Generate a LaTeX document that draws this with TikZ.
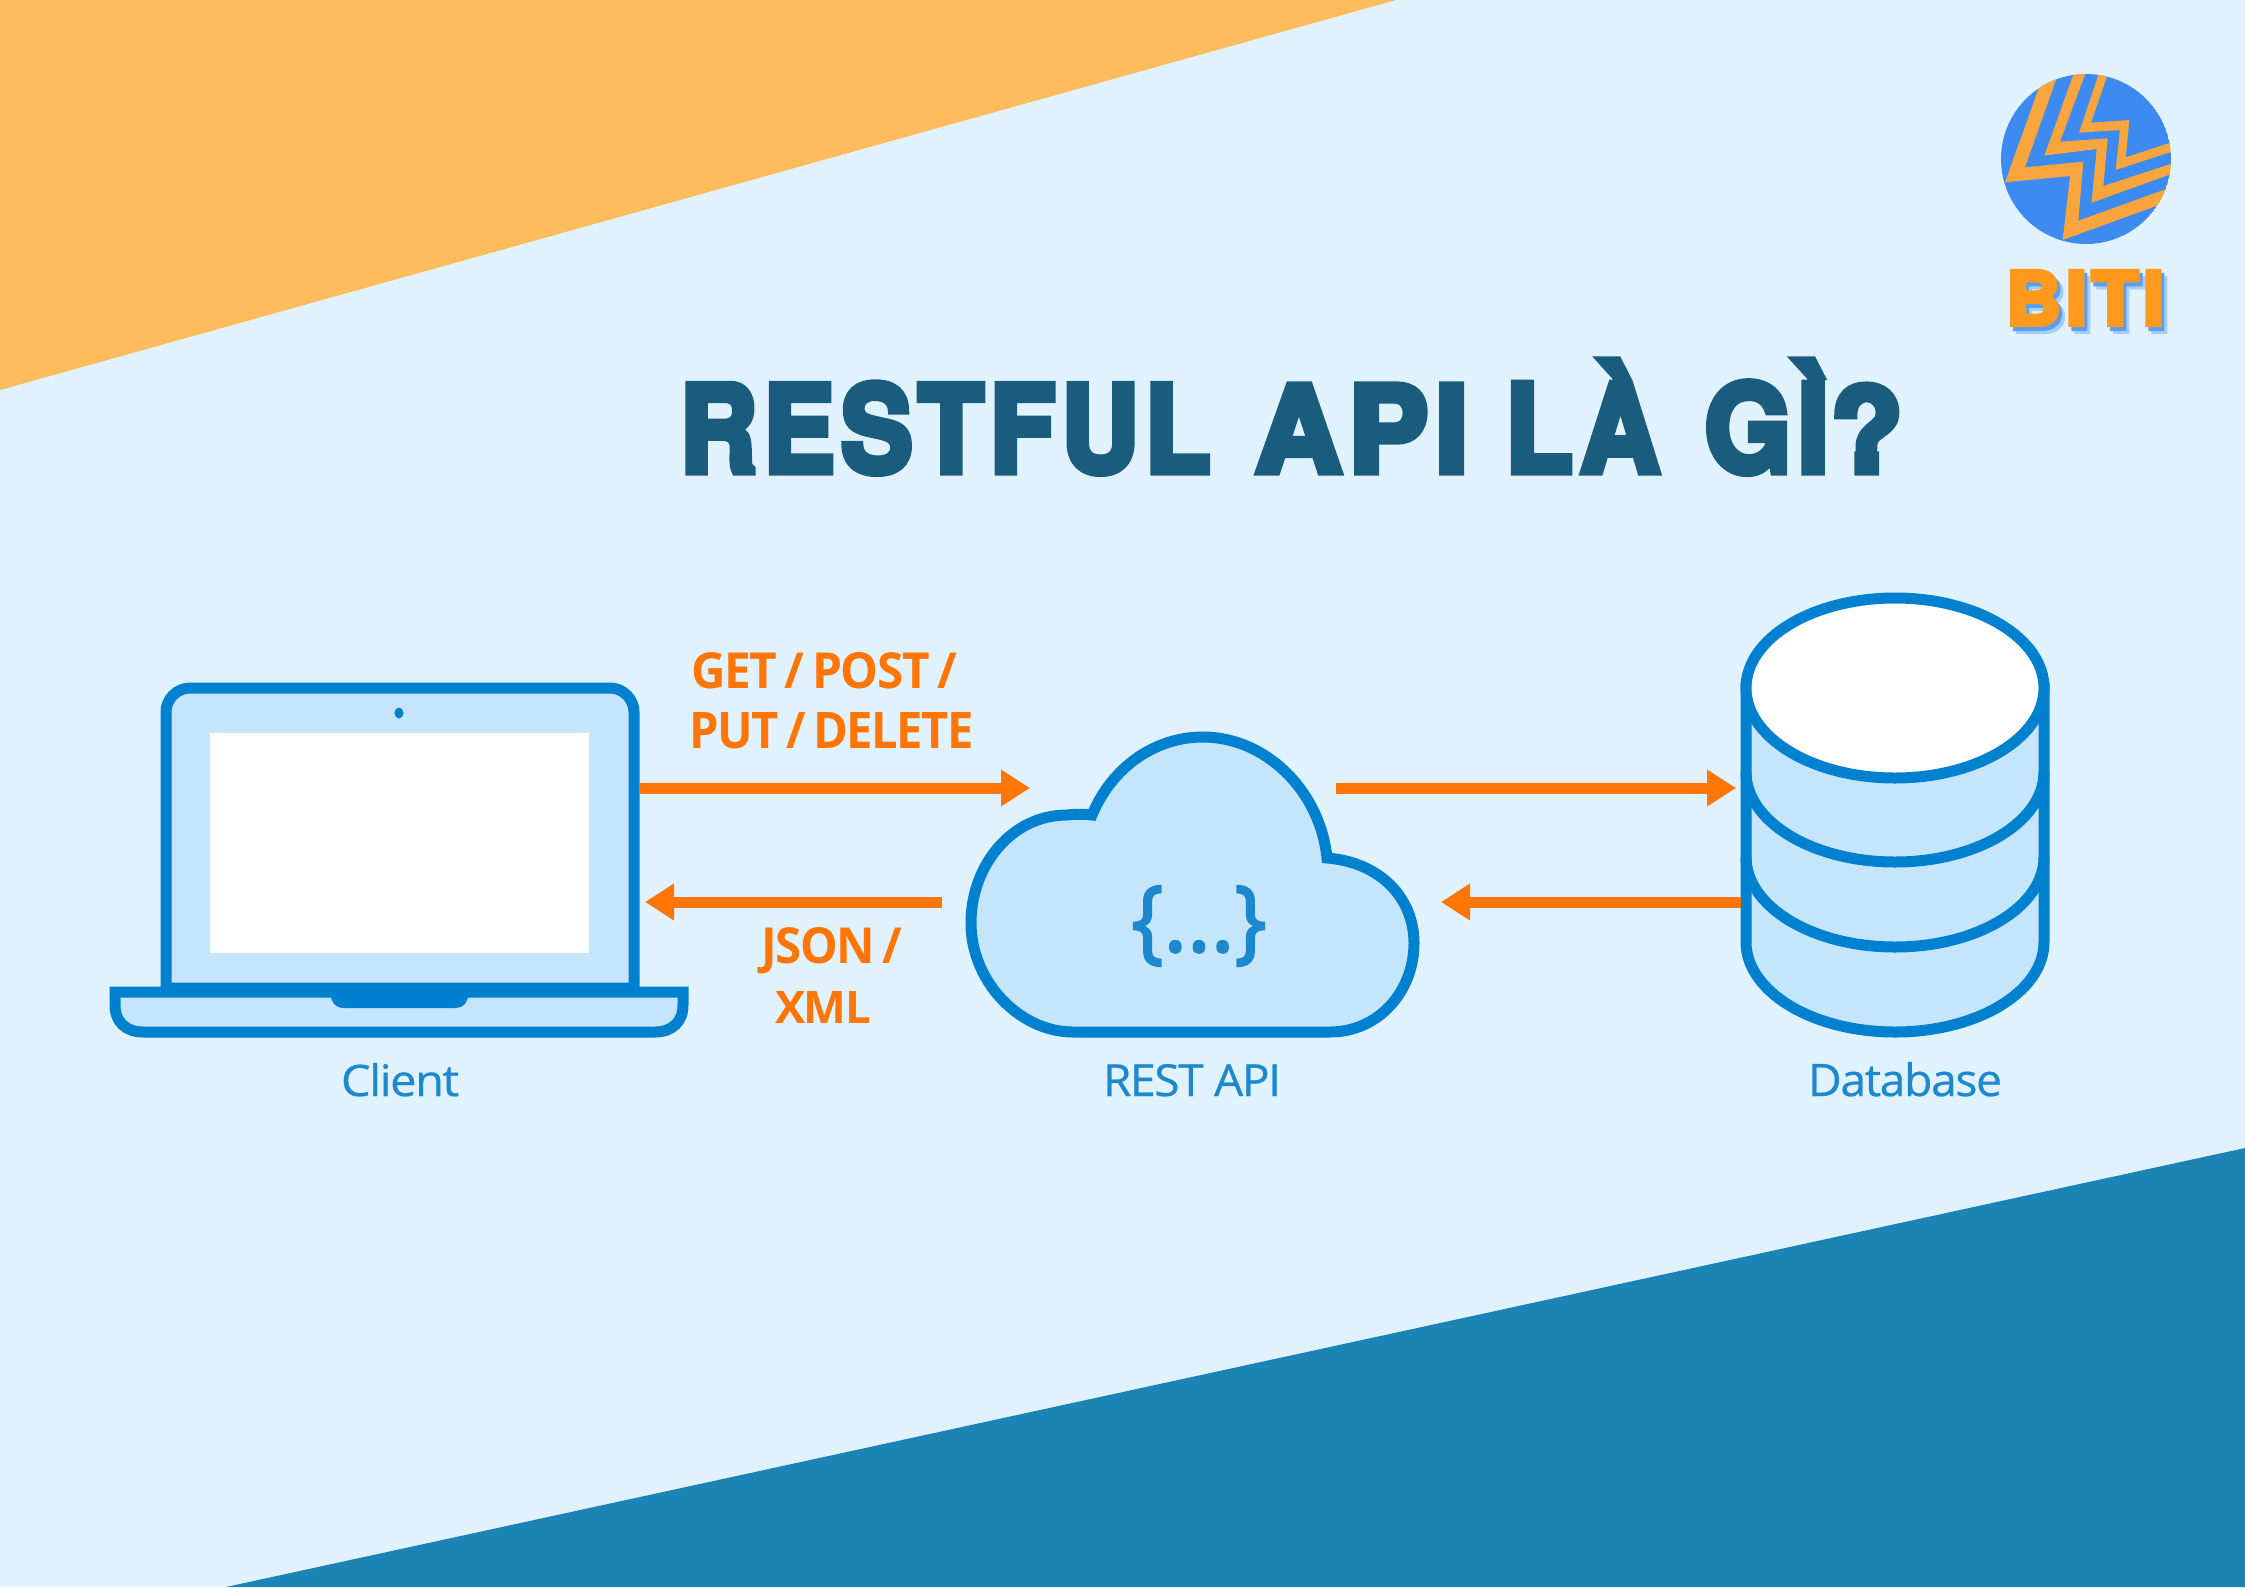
\documentclass[tikz,border=0pt]{standalone}
\usepackage{fontspec}
\usepackage{graphicx}
\usetikzlibrary{arrows.meta}
\newfontfamily\osans[LetterSpace=-3]{Open Sans}
\newfontfamily\capfont[FakeBold=0.6,LetterSpace=-3]{Open Sans}
\newfontfamily\bracefont[FakeBold=2.5]{Open Sans}
\newfontfamily\heavyfont[BoldFeatures={FakeBold=6,LetterSpace=6}]{TeX Gyre Heros}
\definecolor{bgblue}{HTML}{E0F2FE}
\definecolor{cornerorange}{HTML}{FFBC5C}
\definecolor{cornerblue}{HTML}{1C84B4}
\definecolor{titleblue}{HTML}{1A5C7E}
\definecolor{iconline}{HTML}{0081D0}
\definecolor{iconfill}{HTML}{C5E5FC}
\definecolor{arrowor}{HTML}{FF7506}
\definecolor{capblue}{HTML}{1E88CF}
\definecolor{logoblue}{HTML}{3D8BF0}
\definecolor{logoband}{HTML}{F9A53D}
\definecolor{logotext}{HTML}{FF9A1F}
\definecolor{shadowA}{HTML}{5B9EF0}
\definecolor{shadowB}{HTML}{A8CCF8}
\newcommand{\tsp}{\hspace{0.16em}}
\tikzset{
  icon/.style={draw=iconline,fill=iconfill,line width=11pt,line join=miter},
  flow/.style={draw=arrowor,line width=11pt,-{Triangle[length=29pt,width=35pt]}},
  txt/.style={anchor=base west,inner sep=0pt,outer sep=0pt},
  oranget/.style={txt,text=arrowor,font=\osans\bfseries},
  capt/.style={txt,text=capblue,font=\capfont},
  band/.style={fill=logoband,draw=none},
}
\begin{document}
\begin{tikzpicture}[x=1pt,y=-1pt]
\useasboundingbox (0,0) rectangle (2245,1587);
% background
\fill[bgblue] (0,0) rectangle (2245,1587);
\fill[cornerorange] (0,0) -- (1396,0) -- (0,390) -- cycle;
\fill[cornerblue] (226,1587) -- (2245,1148) -- (2245,1587) -- cycle;
% logo
\begin{scope}
  \clip (2086,159) circle[radius=85];
  \fill[logoblue] (2086,159) circle[radius=85];
  \begin{scope}[shift={(1950,50)},x=0.33333pt,y=-0.33333pt]
    \fill[band] (325,70) -- (225,352) -- (400,335) -- (385,512) -- (660,413) -- (640,460) -- (338,570) -- (360,378) -- (165,397) -- (275,90) -- cycle;
    \fill[band] (375,60) -- (410,60) -- (330,275) -- (473,265) -- (460,408) -- (680,336) -- (680,366) -- (425,458) -- (440,297) -- (283,317) -- cycle;
    \fill[band] (450,60) -- (478,60) -- (423,218) -- (538,210) -- (527,322) -- (680,272) -- (680,300) -- (497,360) -- (510,240) -- (387,248) -- cycle;
  \end{scope}
\end{scope}
\node[txt,text=shadowB,font=\heavyfont\bfseries] (bitiB) at (2012,332) {\resizebox{158pt}{54pt}{BITI}};
\node[txt,text=shadowA,font=\heavyfont\bfseries] (bitiA) at (2009,329) {\resizebox{158pt}{54pt}{BITI}};
\node[txt,text=logotext,font=\heavyfont\bfseries] (biti) at (2006,325) {\resizebox{158pt}{54pt}{BITI}};
% title
\node[txt,text=titleblue,font=\heavyfont\bfseries] (title) at (680,472) {\resizebox{530pt}{89pt}{RESTFUL}\hspace{45pt}\resizebox{213pt}{87pt}{API}\hspace{37pt}\resizebox{154pt}{112pt}{LÀ}\hspace{45pt}\resizebox{124pt}{112pt}{GÌ}\hspace{2pt}\resizebox{72pt}{87pt}{?}};
% laptop
\draw[icon] (166,988) -- (166,712) .. controls (166,699) and (177,688) .. (190,688) -- (610,688) .. controls (623,688) and (634,699) .. (634,712) -- (634,988) -- cycle;
\fill[white] (210,733) rectangle (589,953);
\fill[iconline] (399,713) ellipse[x radius=4.5,y radius=5.5];
\draw[icon] (115,992) -- (683,992) -- (683,1005) .. controls (683,1022) and (672,1032) .. (655,1032) -- (143,1032) .. controls (126,1032) and (115,1022) .. (115,1005) -- cycle;
\fill[iconline] (330,995) -- (469,995) -- (467,1000) .. controls (465,1006) and (460,1008) .. (455,1008) -- (344,1008) .. controls (339,1008) and (334,1006) .. (332,1000) -- cycle;
\node[capt] (client) at (341,1096) {\resizebox{118pt}{33pt}{Client}};
% cloud
\draw[icon] (1073,1032) -- (1330,1032) .. controls (1378,1032) and (1414,992) .. (1414,943) .. controls (1414,898) and (1380,862) .. (1327,858) .. controls (1320,790) and (1265,737) .. (1203,737) .. controls (1155,737) and (1112,767) .. (1092,815) .. controls (1084,814) and (1076,814) .. (1067,815) .. controls (1012,815) and (971,865) .. (971,923) .. controls (971,982) and (1020,1032) .. (1073,1032) -- cycle;
\node[anchor=center,inner sep=0pt,text=capblue,font=\bracefont] (braces) at (1199,926) {\resizebox*{32pt}{80pt}{\{}\resizebox{71pt}{!}{...}\resizebox*{32pt}{80pt}{\}}};
\node[capt] (api) at (1103,1096) {\resizebox{178pt}{32pt}{REST API}};
% database
\draw[icon] (1746,688) -- (1746,942) arc[x radius=149,y radius=90,start angle=180,end angle=0] -- (2044,688) -- cycle;
\draw[icon,fill=none] (1746,772) arc[x radius=149,y radius=90,start angle=180,end angle=0];
\draw[icon,fill=none] (1746,857) arc[x radius=149,y radius=90,start angle=180,end angle=0];
\draw[icon,fill=white] (1895,688) ellipse[x radius=149,y radius=90];
\node[capt] (db) at (1808,1096) {\resizebox{194pt}{34pt}{Database}};
% connectors
\coordinate (a1s) at (639,788);
\coordinate (a1e) at (1030,788);
\coordinate (a2s) at (942,902);
\coordinate (a2e) at (645,902);
\coordinate (a3s) at (1336,788);
\coordinate (a3e) at (1736,788);
\coordinate (a4s) at (1741,902);
\coordinate (a4e) at (1441,902);
\draw[flow] (a1s) -- (a1e);
\draw[flow] (a2s) -- (a2e);
\draw[flow] (a3s) -- (a3e);
\draw[flow] (a4s) -- (a4e);
% labels
\node[oranget] (get) at (691,688) {\resizebox{266pt}{36pt}{GET\tsp/\tsp POST\tsp/}};
\node[oranget] (put) at (689,748) {\resizebox{285pt}{36pt}{PUT\tsp/\tsp DELETE}};
\node[oranget] (json) at (761,963) {\resizebox{141pt}{36pt}{JSON\tsp/}};
\node[oranget] (xml) at (775,1023) {\resizebox{96pt}{32pt}{XML}};
\end{tikzpicture}
\end{document}
